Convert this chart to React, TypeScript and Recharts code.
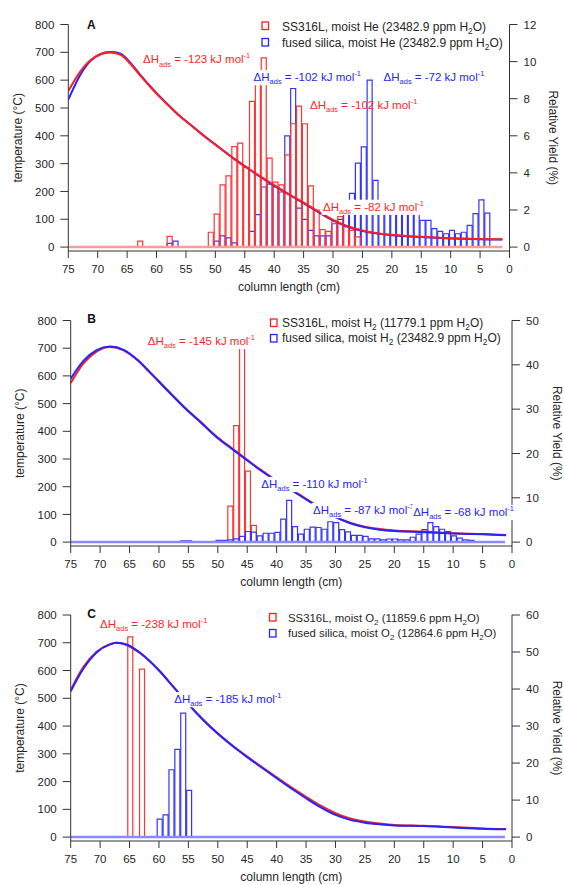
import React from 'react';
import { ComposedChart, XAxis, YAxis, Bar, Line, ReferenceDot, Legend } from 'recharts';

const FONT = '"Liberation Sans", Arial, Helvetica, sans-serif';
const RED = '#ff1f1f';
const BLUE = '#2424ff';
const RED_BAR = '#ff3434';
const BLUE_BAR = '#3434ff';
const AXIS = '#333333';
const TEXT = '#262626';

// ---------- axis ticks ----------
const X_TICKS = [75, 70, 65, 60, 55, 50, 45, 40, 35, 30, 25, 20, 15, 10, 5, 0];
const T_TICKS = [0, 100, 200, 300, 400, 500, 600, 700, 800];
const A_YIELD_TICKS = [0, 2, 4, 6, 8, 10, 12];
const B_YIELD_TICKS = [0, 10, 20, 30, 40, 50];
const C_YIELD_TICKS = [0, 10, 20, 30, 40, 50, 60];

// ---------- Panel A (moist He) ----------
const A_BIN_CM = [62.7, 57.7, 56.7, 50.7, 49.7, 48.7, 47.7, 46.7, 45.7, 44.7, 43.7, 42.7, 41.7, 40.7, 39.7, 38.7, 37.7, 36.7, 35.7, 34.7, 33.7, 32.7, 31.7, 30.7, 29.7, 28.7, 27.7, 26.7, 25.7, 24.7, 23.7, 22.7, 21.7, 20.7, 19.7, 18.7, 17.7, 16.7, 15.7, 14.7, 13.7, 12.7, 11.7, 10.7, 9.7, 8.7, 7.7, 6.7, 5.7, 4.7, 3.7];
const A_RED_YIELD = [0.32, 0.58, null, 0.8, 1.78, 3.35, 3.84, 5.42, 5.6, 4.3, 7.86, 9.3, 10.2, 4.8, 3.5, 3.35, 4.97, 6.65, 7.6, 6.65, 3.3, 2.0, 0.95, 0.85, 1.4, 1.65, 1.1, 0.9, 0.55, null, null, null, null, null, null, null, null, null, null, null, null, null, null, null, null, null, null, null, null, null, null];
const A_BLUE_YIELD = [null, 0.2, 0.32, null, 0.32, 0.6, 0.5, 0.23, null, null, 0.85, 1.75, 3.24, 3.4, 3.24, 2.97, 6.0, 8.55, 2.1, 1.5, 0.9, 0.6, 0.6, 0.6, 1.26, 1.5, 1.9, 2.9, 4.53, 5.4, 9.0, 3.6, 2.0, 2.0, 2.0, 2.0, 2.0, 2.0, 2.0, 1.44, 1.44, 1.0, 0.85, 0.72, 0.9, 0.72, 0.8, 1.17, 1.8, 2.55, 1.83];
const A_CURVE_CM = [75, 73, 71.3, 69.6, 67.9, 66.2, 64.5, 62.8, 60.5, 58.3, 56, 53.7, 51.5, 49.2, 46.9, 44.6, 42.4, 40.1, 37.5, 35, 32.5, 30, 27.5, 25, 22.5, 20, 17.5, 15, 10, 5, 1.2];
const A_RED_TEMP = [561, 630, 671, 692, 699, 692, 660, 617, 563, 516, 470, 430, 392, 355, 318, 285, 254, 224, 190, 160, 128, 98, 75, 60, 50, 44, 40, 37, 32, 29, 28];
const A_BLUE_TEMP = [530, 618, 668, 693, 701, 696, 664, 620, 565, 517, 470, 431, 393, 356, 319, 285, 253, 222, 189, 158, 126, 96, 73, 58, 49, 43, 39, 36, 31, 28, 27];
const A_BASE_CM = [75, 1.2];
const A_BASE_YIELD = [0, 0];
const A_DH_CM = [62.3, 43.5, 21.4, 33.9, 31.7];
const A_DH_TEMP = [661, 597, 597, 497, 131];
const A_DH_KJ = ['-123', '-102', '-72', '-102', '-82'];
const A_DH_SERIES = ['red', 'blue', 'blue', 'red', 'red'];
const A_DH_OPAQUE = [true, true, true, false, true];
const A_LEGEND = ['SS316L, moist He (23482.9 ppm H_2O)', 'fused silica, moist He (23482.9 ppm H_2O)'];

// ---------- Panel B (moist H2) ----------
const B_BIN_CM = [55.8, 54.8, 49.8, 48.8, 47.8, 46.8, 45.8, 44.8, 43.8, 42.8, 41.8, 40.8, 39.8, 38.8, 37.8, 36.8, 35.8, 34.8, 33.8, 32.8, 31.8, 30.8, 29.8, 28.8, 27.8, 26.8, 25.8, 24.8, 23.8, 22.8, 21.8, 20.8, 19.8, 18.8, 17.8, 16.8, 15.8, 14.8, 13.8, 12.8, 11.8, 10.8, 9.8, 8.8, 7.8, 6.8];
const B_RED_YIELD = [null, null, null, null, 8.1, 26.3, 46, 16.0, 3.8, null, null, null, null, null, null, null, null, null, null, null, null, null, null, null, null, null, null, null, null, null, null, null, null, null, null, null, null, null, null, null, null, null, null, null, null, null];
const B_BLUE_YIELD = [0.3, 0.3, 0.4, 0.4, 0.5, 0.75, 1.3, 2.4, 2.25, 1.4, 2.0, 2.0, 2.2, 5.2, 9.4, 3.5, 1.8, 2.9, 3.4, 3.3, 2.9, 4.6, 4.4, 2.8, 2.3, 1.5, 1.5, 1.3, 0.75, 0.75, 0.5, 0.7, 0.7, 0.5, 0.5, 1.1, 1.8, 2.8, 4.4, 3.5, 2.9, 2.4, 1.4, 0.9, 0.5, 0.4];
const B_CURVE_CM = [75, 72.8, 70.6, 68.3, 66, 63.75, 61.5, 58.6, 55.8, 53, 50.1, 47.5, 45, 42.5, 40, 37.5, 35, 32.5, 30, 27.5, 25, 22.5, 20, 15, 10, 5, 1];
const B_RED_TEMP = [574, 646, 688, 704, 692, 658, 612, 550, 490, 436, 379, 337, 297, 258, 222, 190, 156, 123, 92, 70, 56, 47, 42, 38, 32, 29, 26];
const B_BLUE_TEMP = [590, 655, 693, 706, 694, 660, 612, 548, 488, 434, 377, 335, 295, 256, 220, 188, 154, 121, 90, 68, 54, 45, 40, 36, 31, 28, 25];
const B_BASE_CM = [75, 1.2];
const B_BASE_YIELD = [0, 0];
const B_DH_CM = [61.9, 42.6, 33.8, 16.8];
const B_DH_TEMP = [712, 196, 102, 95];
const B_DH_KJ = ['-145', '-110', '-87', '-68'];
const B_DH_SERIES = ['red', 'blue', 'blue', 'blue'];
const B_DH_OPAQUE = [true, true, true, true];
const B_LEGEND = ['SS316L, moist H_2 (11779.1 ppm H_2O)', 'fused silica, moist H_2 (23482.9 ppm H_2O)'];

// ---------- Panel C (moist O2) ----------
const C_BIN_CM = [64.8, 63.8, 62.8, 61.8, 60.8, 59.8, 58.8, 57.8, 56.8, 55.8, 54.8];
const C_RED_YIELD = [54.1, null, 45.4, null, null, null, null, null, null, null, null];
const C_BLUE_YIELD = [null, null, null, null, null, 4.85, 6.0, 18.2, 23.7, 33.5, 12.6];
const C_CURVE_CM = [75, 72.8, 70.6, 68.3, 67.2, 65.5, 63.2, 60, 57.5, 55, 52.5, 50, 47.5, 45, 42.5, 40, 37.5, 35, 32.5, 30, 27.5, 25, 22.5, 20, 15, 10, 5, 1];
const C_RED_TEMP = [530, 614, 668, 695, 700, 692, 662, 600, 540, 480, 424, 374, 330, 290, 252, 215, 179, 145, 113, 86, 67, 56, 49, 44, 41, 36, 31, 29];
const C_BLUE_TEMP = [525, 608, 665, 694, 700, 694, 664, 601, 540, 478, 422, 372, 328, 288, 250, 212, 175, 140, 107, 80, 62, 52, 46, 42, 40, 35, 30, 28];
const C_BASE_CM = [75, 1.2];
const C_BASE_YIELD = [0, 0];
const C_DH_CM = [70.0, 57.4];
const C_DH_TEMP = [753, 483];
const C_DH_KJ = ['-238', '-185'];
const C_DH_SERIES = ['red', 'blue'];
const C_DH_OPAQUE = [true, true];
const C_LEGEND = ['SS316L, moist O_2 (11859.6 ppm H_2O)', 'fused silica, moist O_2 (12864.6 ppm H_2O)'];

// ---------- helpers ----------
const binRows = (xs: number[], red: (number | null)[], blue: (number | null)[]) =>
  xs.map((x, i) => ({ x, red: red[i], blue: blue[i] }));
const curveRows = (xs: number[], ys: number[]) => xs.map((x, i) => ({ x, v: ys[i] }));
const colorOf = (s: string) => (s === 'red' ? RED : BLUE);

let measureCtx: CanvasRenderingContext2D | null = null;
function measure(s: string, fs: number): number {
  if (typeof document !== 'undefined') {
    if (!measureCtx) measureCtx = document.createElement('canvas').getContext('2d');
    if (measureCtx) {
      measureCtx.font = `${fs}px "Liberation Sans", Arial, sans-serif`;
      return measureCtx.measureText(s).width;
    }
  }
  return s.length * fs * 0.55;
}

function DHLabel(props: any) {
  const vb = props.viewBox || { x: props.x, y: props.y, width: 0, height: 0 };
  const x = vb.x + (vb.width || 0) / 2;
  const y = vb.y + (vb.height || 0) / 2;
  const fs = props.fsz;
  const sfs = fs * 0.65;
  const head = '\u0394H';
  const tail = ` = ${props.kj} kJ mol`;
  const w = measure(head, fs) + measure('ads', sfs) + measure(tail, fs) + measure('-1', sfs);
  return (
    <g>
      {props.opaque && <rect x={x - 1.5} y={y - fs * 0.95} width={w + 3} height={fs * 1.32} fill="#ffffff" />}
      <text x={x} y={y} fill={props.tone} fontSize={fs} fontFamily={FONT} style={{ whiteSpace: 'pre' }}>
        <tspan>{head}</tspan>
        <tspan fontSize={sfs} dy={fs * 0.3}>ads</tspan>
        <tspan dy={-fs * 0.3}>{tail}</tspan>
        <tspan fontSize={sfs} dy={-fs * 0.42}>-1</tspan>
      </text>
    </g>
  );
}

function Letter(props: any) {
  const vb = props.viewBox || { x: props.x, y: props.y, width: 0, height: 0 };
  return (
    <text x={vb.x + (vb.width || 0) / 2} y={vb.y + (vb.height || 0) / 2} fontSize={12} fontWeight="bold" fill="#111" fontFamily={FONT}>
      {props.ch}
    </text>
  );
}

function RichText({ x, y, text, fs }: { x: number; y: number; text: string; fs: number }) {
  const parts = text.split(/_(\d)/);
  const out: any[] = [];
  let lowered = false;
  parts.forEach((s, i) => {
    if (i % 2 === 1) {
      out.push(<tspan key={i} fontSize={fs * 0.7} dy={fs * 0.28}>{s}</tspan>);
      lowered = true;
    } else if (s) {
      out.push(<tspan key={i} dy={lowered ? -fs * 0.28 : 0}>{s}</tspan>);
      lowered = false;
    }
  });
  return (
    <text x={x} y={y} fontSize={fs} fill={TEXT} fontFamily={FONT} style={{ whiteSpace: 'pre' }}>
      {out}
    </text>
  );
}

type LegendSpec = { texts: string[]; fs: number; markerX: number; textX: number; markerTop: number[]; baseline: number[] };

function LegendRows({ spec }: { spec: LegendSpec }) {
  const colors = [RED, BLUE];
  return (
    <svg width={564} height={60} style={{ display: 'block', overflow: 'visible' }}>
      {spec.texts.map((t, i) => (
        <g key={i}>
          <rect x={spec.markerX} y={spec.markerTop[i]} width={6.5} height={7.5} fill="none" stroke={colors[i]} strokeWidth={1.3} />
          <RichText x={spec.textX} y={spec.baseline[i]} text={t} fs={spec.fs} />
        </g>
      ))}
    </svg>
  );
}

type PanelCfg = {
  rows: any[];
  redCurve: any[];
  blueCurve: any[];
  base: any[];
  baseColor: string;
  yMax: number;
  yTicks: number[];
  margin: { top: number; right: number; bottom: number; left: number };
  leftTitleOffset: number;
  rightTitleOffset: number;
  redOnTop: boolean;
  dh: { x: number; t: number; kj: string; series: string; opaque: boolean }[];
  letter: { ch: string; x: number; t: number };
  legend: LegendSpec;
};

const T_MIN = -14;

function Panel({ p }: { p: PanelCfg }) {
  const tick = { fill: TEXT, fontSize: 11.5, fontFamily: FONT };
  const titleStyle = { textAnchor: 'middle' as const, fill: TEXT, fontSize: 12, fontFamily: FONT };
  const redBars = (
    <Bar key="rb" xAxisId="xr" yAxisId="Y" dataKey="red" fill="none" stroke={RED_BAR} strokeWidth={1.2} barSize={5} isAnimationActive={false} />
  );
  const blueBars = (
    <Bar key="bb" xAxisId="xb" yAxisId="Y" dataKey="blue" fill="none" stroke={BLUE_BAR} strokeWidth={1.2} barSize={5} isAnimationActive={false} />
  );
  const baseLine = (
    <Line key="base" xAxisId="main" yAxisId="Y" data={p.base} dataKey="v" stroke={p.baseColor} strokeWidth={2.5} dot={false} activeDot={false} isAnimationActive={false} />
  );
  const redLine = (
    <Line key="rl" xAxisId="main" yAxisId="T" data={p.redCurve} dataKey="v" type="monotone" stroke={RED} strokeWidth={2} dot={false} activeDot={false} isAnimationActive={false} />
  );
  const blueLine = (
    <Line key="bl" xAxisId="main" yAxisId="T" data={p.blueCurve} dataKey="v" type="monotone" stroke={BLUE} strokeWidth={2} dot={false} activeDot={false} isAnimationActive={false} />
  );
  const series = p.redOnTop
    ? [blueBars, redBars, baseLine, blueLine, redLine]
    : [redBars, blueBars, baseLine, redLine, blueLine];
  const yMin = (T_MIN / 800) * p.yMax;

  return (
    <ComposedChart width={564} height={295} data={p.rows} margin={p.margin}>
      <XAxis
        xAxisId="main"
        type="number"
        dataKey="x"
        domain={[0, 75]}
        reversed
        allowDataOverflow
        ticks={X_TICKS}
        interval={0}
        height={40}
        tickSize={7}
        tickMargin={7}
        tick={tick}
        axisLine={{ stroke: AXIS, strokeWidth: 1 }}
        tickLine={{ stroke: AXIS, strokeWidth: 1 }}
        label={{ value: 'column length (cm)', position: 'insideBottom', offset: 0.5, style: titleStyle }}
      />
      <XAxis xAxisId="xr" type="number" dataKey="x" domain={[0, 75]} reversed allowDataOverflow hide />
      <XAxis xAxisId="xb" type="number" dataKey="x" domain={[0, 75]} reversed allowDataOverflow hide />
      <YAxis
        yAxisId="T"
        orientation="left"
        type="number"
        domain={[T_MIN, 800]}
        allowDataOverflow
        ticks={T_TICKS}
        interval={0}
        width={60}
        tickSize={8}
        tickMargin={6}
        tick={tick}
        axisLine={{ stroke: AXIS, strokeWidth: 1 }}
        tickLine={{ stroke: AXIS, strokeWidth: 1 }}
        label={{ value: 'temperature (\u00B0C)', angle: -90, position: 'insideLeft', offset: p.leftTitleOffset, style: titleStyle }}
      />
      <YAxis
        yAxisId="Y"
        orientation="right"
        type="number"
        domain={[yMin, p.yMax]}
        allowDataOverflow
        ticks={p.yTicks}
        interval={0}
        width={50}
        tickSize={8}
        tickMargin={6}
        tick={tick}
        axisLine={{ stroke: AXIS, strokeWidth: 1 }}
        tickLine={{ stroke: AXIS, strokeWidth: 1 }}
        label={{ value: 'Relative Yield (%)', angle: 90, position: 'insideRight', offset: p.rightTitleOffset, style: titleStyle }}
      />
      {series}
      {p.dh.map((d, i) => (
        <ReferenceDot
          key={`dh${i}`}
          xAxisId="main"
          yAxisId="T"
          x={d.x}
          y={d.t}
          r={0}
          fill="none"
          stroke="none"
          label={<DHLabel kj={d.kj} tone={colorOf(d.series)} opaque={d.opaque} fsz={11.5} />}
        />
      ))}
      <ReferenceDot
        xAxisId="main"
        yAxisId="T"
        x={p.letter.x}
        y={p.letter.t}
        r={0}
        fill="none"
        stroke="none"
        label={<Letter ch={p.letter.ch} />}
      />
      <Legend
        layout="vertical"
        align="center"
        verticalAlign="middle"
        wrapperStyle={{ position: 'absolute', left: 0, top: 0, width: 564, height: 60 }}
        content={() => <LegendRows spec={p.legend} />}
      />
    </ComposedChart>
  );
}

const dhList = (cm: number[], t: number[], kj: string[], series: string[], opaque: boolean[]) =>
  cm.map((x, i) => ({ x, t: t[i], kj: kj[i], series: series[i], opaque: opaque[i] }));

const PANEL_A: PanelCfg = {
  rows: binRows(A_BIN_CM, A_RED_YIELD, A_BLUE_YIELD),
  redCurve: curveRows(A_CURVE_CM, A_RED_TEMP),
  blueCurve: curveRows(A_CURVE_CM, A_BLUE_TEMP),
  base: curveRows(A_BASE_CM, A_BASE_YIELD),
  baseColor: '#ff9a9a',
  yMax: 12,
  yTicks: A_YIELD_TICKS,
  margin: { top: 24.5, right: 4.5, bottom: 4, left: 8.3 },
  leftTitleOffset: 9.2,
  rightTitleOffset: 6,
  redOnTop: true,
  dh: dhList(A_DH_CM, A_DH_TEMP, A_DH_KJ, A_DH_SERIES, A_DH_OPAQUE),
  letter: { ch: 'A', x: 71.8, t: 784 },
  legend: { texts: A_LEGEND, fs: 12, markerX: 262, textX: 282, markerTop: [22, 38.5], baseline: [30.5, 47] },
};

const PANEL_B: PanelCfg = {
  rows: binRows(B_BIN_CM, B_RED_YIELD, B_BLUE_YIELD),
  redCurve: curveRows(B_CURVE_CM, B_RED_TEMP),
  blueCurve: curveRows(B_CURVE_CM, B_BLUE_TEMP),
  base: curveRows(B_BASE_CM, B_BASE_YIELD),
  baseColor: '#8a8aff',
  yMax: 50,
  yTicks: B_YIELD_TICKS,
  margin: { top: 25.5, right: 2, bottom: 4, left: 10.7 },
  leftTitleOffset: 8.8,
  rightTitleOffset: 5,
  redOnTop: false,
  dh: dhList(B_DH_CM, B_DH_TEMP, B_DH_KJ, B_DH_SERIES, B_DH_OPAQUE),
  letter: { ch: 'B', x: 72.2, t: 790 },
  legend: { texts: B_LEGEND, fs: 12, markerX: 270.5, textX: 282, markerTop: [24, 39.5], baseline: [31.7, 46.7] },
};

const PANEL_C: PanelCfg = {
  rows: binRows(C_BIN_CM, C_RED_YIELD, C_BLUE_YIELD),
  redCurve: curveRows(C_CURVE_CM, C_RED_TEMP),
  blueCurve: curveRows(C_CURVE_CM, C_BLUE_TEMP),
  base: curveRows(C_BASE_CM, C_BASE_YIELD),
  baseColor: '#8a8aff',
  yMax: 60,
  yTicks: C_YIELD_TICKS,
  margin: { top: 25, right: 2, bottom: 4, left: 10.7 },
  leftTitleOffset: 8.8,
  rightTitleOffset: 5,
  redOnTop: false,
  dh: dhList(C_DH_CM, C_DH_TEMP, C_DH_KJ, C_DH_SERIES, C_DH_OPAQUE),
  letter: { ch: 'C', x: 72.2, t: 789 },
  legend: { texts: C_LEGEND, fs: 11.4, markerX: 269.5, textX: 288, markerTop: [23.5, 39.5], baseline: [31.5, 47.3] },
};

export default function App() {
  return (
    <div style={{ position: 'absolute', left: 0, top: 0, width: 564, height: 885, background: '#ffffff', fontFamily: FONT }}>
      <Panel p={PANEL_A} />
      <Panel p={PANEL_B} />
      <Panel p={PANEL_C} />
    </div>
  );
}
